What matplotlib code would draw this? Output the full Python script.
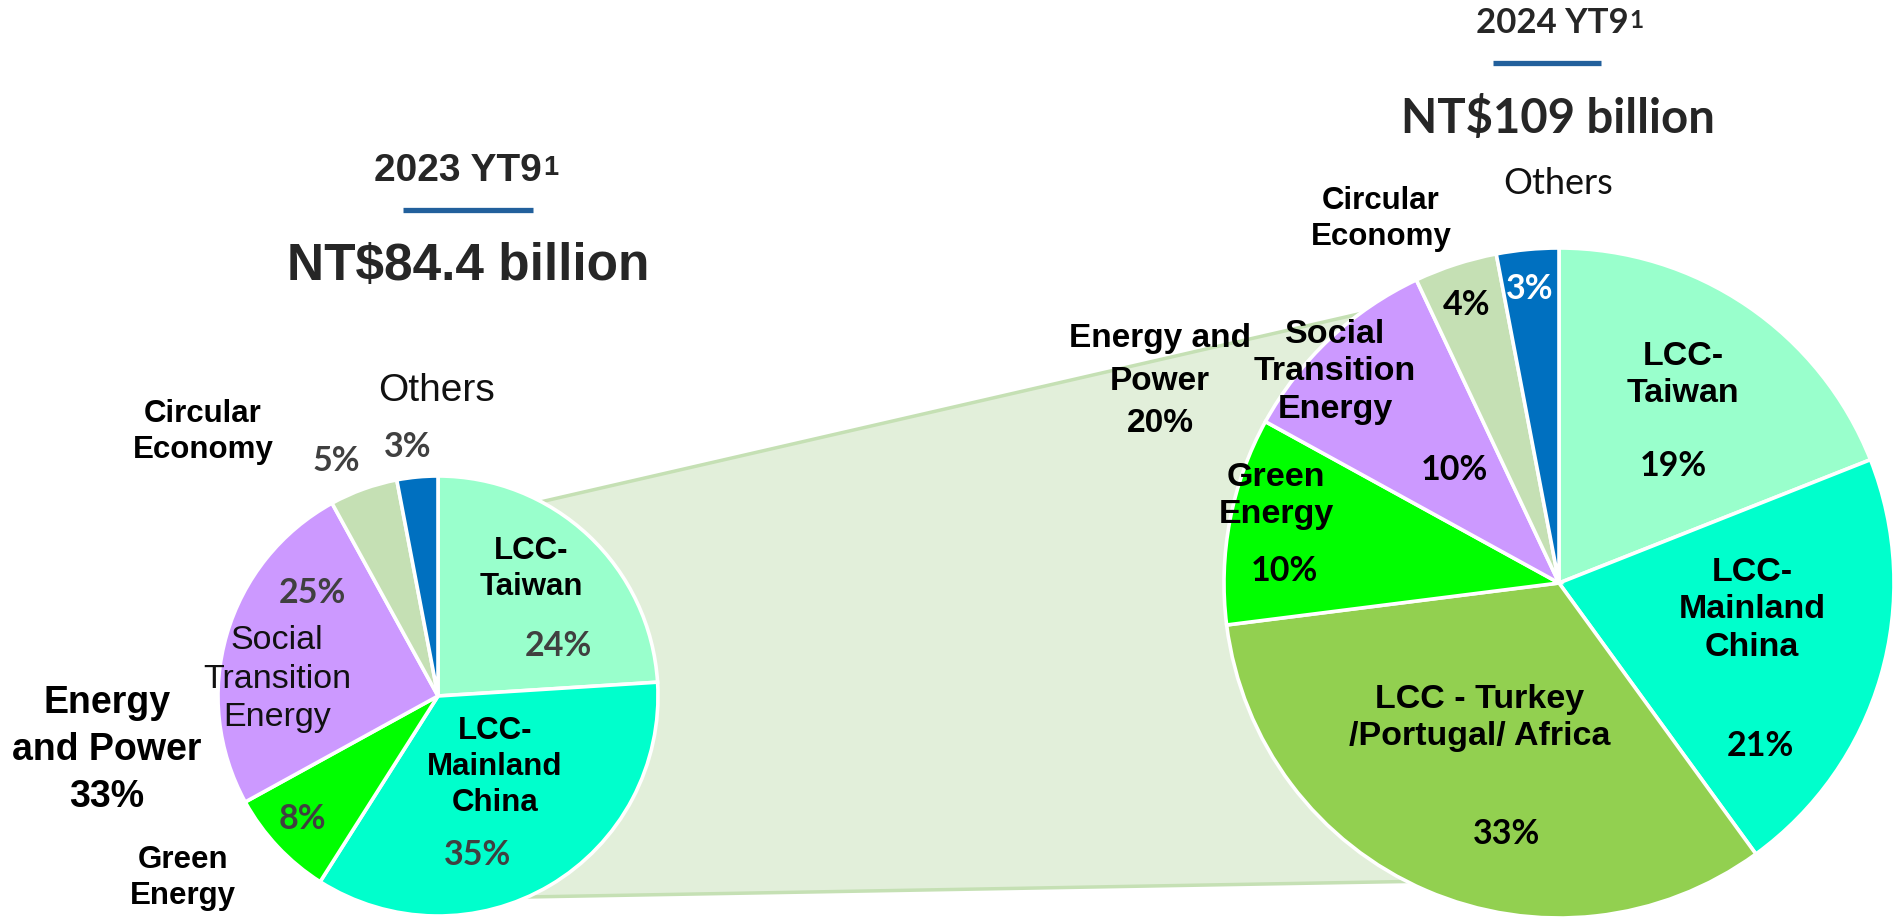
import numpy as np
import matplotlib
matplotlib.use('Agg')
import matplotlib.pyplot as plt
from matplotlib.patches import Polygon

W, H = 1893, 922

# revenue mix by segment, % of total
cats_2023 = ['LCC-\nTaiwan', 'LCC-\nMainland\nChina', 'Green\nEnergy',
             'Social\nTransition\nEnergy', 'Circular\nEconomy', 'Others']
vals_2023 = [24, 35, 8, 25, 5, 3]

cats_2024 = ['LCC-\nTaiwan', 'LCC-\nMainland\nChina', 'LCC - Turkey\n/Portugal/ Africa',
             'Green\nEnergy', 'Social\nTransition\nEnergy', 'Circular\nEconomy', 'Others']
vals_2024 = [19, 21, 33, 10, 10, 4, 3]

periods = ['2023 YT9', '2024 YT9']
totals = ['NT$84.4 billion', 'NT$109 billion']
group_2023 = ['Green\nEnergy', 'Social\nTransition\nEnergy']
group_2024 = ['Green\nEnergy', 'Social\nTransition\nEnergy']

colors_2023 = ['#99ffcc', '#00ffcc', '#00ff00', '#cc99ff', '#c5e0b4', '#0070c0']
colors_2024 = ['#99ffcc', '#00ffcc', '#92d050', '#00ff00', '#cc99ff', '#c5e0b4', '#0070c0']

ARIAL = 'Liberation Sans'
CALIBRI = 'Lato'

# layout (pixels, y measured from top)
c1, r1 = (438, 696), 220
c2, r2 = (1559, 583), 335

lab_pos_2023 = [(531, 569), (495, 767), (183, 878), (277, 679), (203, 432), (437, 391)]
pct_pos_2023 = [(558, 646), (478, 855), (302, 819), (312, 593), (336, 461), (408, 447)]
lab_pos_2024 = [(1683, 375), (1752, 610), (1480, 718), (1276, 496), (1335, 372), (1381, 219), (1558, 183)]
pct_pos_2024 = [(1673, 466), (1760, 746), (1507, 834), (1284, 571), (1454, 470), (1467, 305), (1530, 289)]

fig = plt.figure(figsize=(W / 100, H / 100), dpi=100)
ax = fig.add_axes([0, 0, 1, 1])


def txt(x, y, s, **kw):
    return ax.text(x, H - y, s, ha='center', va='center', multialignment='center', **kw)


def edge_pt(c, r, ang):
    a = np.deg2rad(ang)
    return (c[0] + r * np.cos(a), H - c[1] + r * np.sin(a))


# connector between the two pies
poly = Polygon([edge_pt(c1, r1, 62), edge_pt(c2, r2, 126.5),
                edge_pt(c2, r2, -117), edge_pt(c1, r1, -66)],
               closed=True, facecolor='#e2efda', edgecolor='#c5e0b4', lw=2.5, zorder=0)
ax.add_patch(poly)

wp = dict(edgecolor='white', linewidth=2.6)
ax.pie(vals_2023, colors=colors_2023, startangle=90, counterclock=False,
       center=(c1[0], H - c1[1]), radius=r1, wedgeprops=wp)
ax.pie(vals_2024, colors=colors_2024, startangle=90, counterclock=False,
       center=(c2[0], H - c2[1]), radius=r2, wedgeprops=wp)

ax.set_xlim(0, W)
ax.set_ylim(0, H)
ax.set_aspect('equal')
ax.axis('off')

# 2023 labels
for cat, v, lp, pp in zip(cats_2023, vals_2023, lab_pos_2023, pct_pos_2023):
    if cat == 'Others':
        txt(*lp, cat, family=ARIAL, fontsize=28, color='#111111')
    elif cat.startswith('Social'):
        txt(*lp, cat, family=ARIAL, fontsize=24.5, color='#111111', linespacing=1.32)
    else:
        txt(*lp, cat, family=ARIAL, fontsize=22.5, fontweight='bold', color='black', linespacing=1.28)
    txt(*pp, f'{v}%', family=CALIBRI, fontsize=24.5, fontweight='bold', color='#404040')

g23 = sum(v for c, v in zip(cats_2023, vals_2023) if c in group_2023)
txt(107, 750, f'Energy\nand Power\n{g23}%', family=ARIAL, fontsize=27, fontweight='bold',
    color='black', linespacing=1.38)

# 2024 labels
for cat, v, lp, pp in zip(cats_2024, vals_2024, lab_pos_2024, pct_pos_2024):
    if cat == 'Others':
        txt(*lp, cat, family=CALIBRI, fontsize=26, color='#111111')
    elif cat.startswith('Circular'):
        txt(*lp, cat, family=ARIAL, fontsize=22.5, fontweight='bold', color='black', linespacing=1.3)
    else:
        txt(*lp, cat, family=ARIAL, fontsize=24.5, fontweight='bold', color='black', linespacing=1.27)
    txt(*pp, f'{v}%', family=CALIBRI, fontsize=24.5, fontweight='bold',
        color='white' if cat == 'Others' else 'black')

g24 = sum(v for c, v in zip(cats_2024, vals_2024) if c in group_2024)
txt(1160, 381, f'Energy and\nPower\n{g24}%', family=ARIAL, fontsize=24, fontweight='bold',
    color='black', linespacing=1.5)

# titles
fig.canvas.draw()
rend = fig.canvas.get_renderer()
titles = [(periods[0], totals[0], ARIAL, 458, 171, 28, 267, 37, (403, 533, 210)),
          (periods[1], totals[1], CALIBRI, 1552, 23, 25, 119, 34, (1493, 1601, 63))]
for per, tot, fam, x, y, fs, ty, tfs, (lx0, lx1, ly) in titles:
    t = txt(x, y, per, family=fam, fontsize=fs, fontweight='bold', color='#262626')
    bb = t.get_window_extent(rend)
    ax.text(bb.x1 + 1, bb.y1 - 2, '1', ha='left', va='top', family=fam,
            fontsize=fs * 0.7, fontweight='bold', color='#262626')
    ax.plot([lx0, lx1], [H - ly, H - ly], color='#22609c', lw=3.8, solid_capstyle='butt')
    txt(x + 10 if fam == ARIAL else x + 6, ty, tot, family=fam, fontsize=tfs, fontweight='bold', color='#262626')

fig.savefig('out.png', dpi=100)
